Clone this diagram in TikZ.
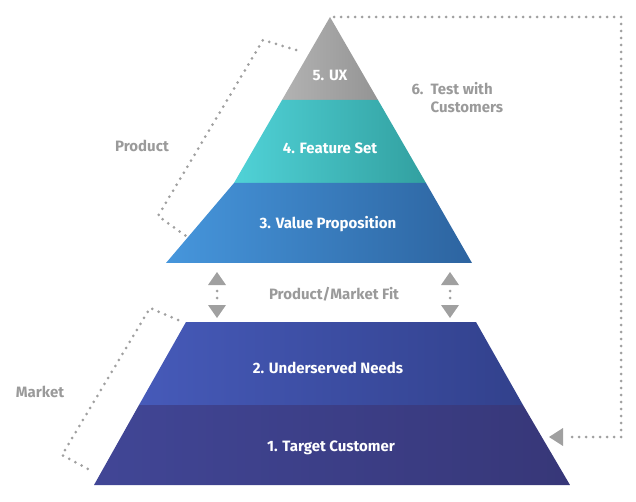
\documentclass[tikz,border=0pt]{standalone}
\usepackage{fontspec}
\setmainfont{Fira Sans}
\usetikzlibrary{arrows.meta}
\definecolor{gtxt}{HTML}{9A9A9A}
\definecolor{dotc}{HTML}{A0A0A0}
\tikzset{
 lbl/.style={font=\bfseries\fontsize{15}{18}\selectfont, text=white},
 glbl/.style={font=\bfseries\fontsize{15}{18}\selectfont, text=gtxt, align=left},
 dotline/.style={draw=dotc, line width=3pt, dash pattern=on 0pt off 7pt, line cap=round},
 head/.style={fill=dotc, draw=none}
}
\begin{document}
\begin{tikzpicture}[x=1pt,y=-1pt]
\useasboundingbox (0,0) rectangle (636,502);
% top pyramid
\shade[left color=gray!60!white, right color=gray!80!black!70] (330,17) -- (282,100) -- (378,100) -- cycle;
\shade[left color={rgb,255:red,80;green,210;blue,215}, right color={rgb,255:red,50;green,160;blue,160}] (282,100) -- (378,100) -- (426,183) -- (234,183) -- cycle;
\shade[left color={rgb,255:red,70;green,150;blue,220}, right color={rgb,255:red,45;green,100;blue,160}] (234,183) -- (426,183) -- (472,263) -- (166,263) -- cycle;
% bottom trapezoid
\shade[left color={rgb,255:red,70;green,90;blue,185}, right color={rgb,255:red,50;green,65;blue,140}] (186,322) -- (476,322) -- (523,405) -- (139,405) -- cycle;
\shade[left color={rgb,255:red,65;green,70;blue,150}, right color={rgb,255:red,55;green,55;blue,120}] (139,405) -- (523,405) -- (570,485) -- (94,485) -- cycle;
\node[lbl] (ux) at (330,75) {5. UX};
\node[lbl] (fs) at (330,148) {4. Feature Set};
\node[lbl] (vp) at (328,224) {3. Value Proposition};
\node[lbl] (un) at (328,368) {2. Underserved Needs};
\node[lbl] (tc) at (331,448) {1. Target Customer};
\node[glbl] (pmf) at (334,294) {Product/Market Fit};
\node[glbl] (prod) at (142,146) {Product};
\node[glbl] (mkt) at (40,392) {Market};
\node[glbl, anchor=west, align=left] (test) at (408,98) {6.\ \ Test with\\\hphantom{6.\ \ }Customers};
% double arrows
\foreach \x/\n in {217/la,450/ra}{
 \coordinate (\n t) at (\x,272);
 \coordinate (\n b) at (\x,318);
 \fill[head] (\x-9,285) -- (\x,272) -- (\x+9,285) -- cycle;
 \fill[head] (\x-9,305) -- (\x,318) -- (\x+9,305) -- cycle;
 \draw[dotline] (\x,291) -- (\x,300);
}
% brackets
\coordinate (p1) at (296,50); \coordinate (p2) at (263,40);
\coordinate (p3) at (158,216); \coordinate (p4) at (186,236);
\draw[dotline] (p1) -- (p2) -- (p3) -- (p4);
\coordinate (m1) at (178,320); \coordinate (m2) at (150,308);
\coordinate (m3) at (62,455); \coordinate (m4) at (90,470);
\draw[dotline] (m1) -- (m2) -- (m3) -- (m4);
% feedback loop
\coordinate (r0) at (334,17); \coordinate (r1) at (621,17);
\coordinate (r2) at (621,437); \coordinate (r3) at (566,437);
\draw[dotline] (r0) -- (r1) -- (r2) -- (r3);
\fill[head] (563,428) -- (549,437) -- (563,446) -- cycle;
\end{tikzpicture}
\end{document}
